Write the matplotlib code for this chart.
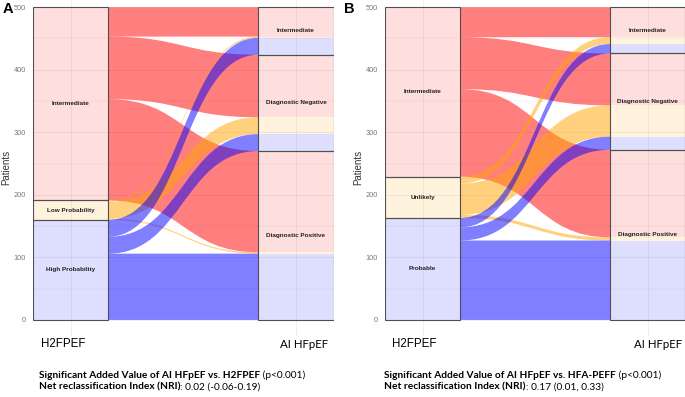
import matplotlib
matplotlib.use('Agg')
import matplotlib.pyplot as plt
from matplotlib.path import Path
from matplotlib.patches import PathPatch, Rectangle

# ---------------- data ----------------
# left-axis (H2FPEF / HFA-PEFF) categories, top to bottom
a_left = ["Intermediate", "Low Probability", "High Probability"]
b_left = ["Intermediate", "Unlikely", "Probable"]
# right-axis (AI HFpEF) categories, top to bottom
right_cats = ["Intermediate", "Diagnostic Negative", "Diagnostic Positive"]

# patients flowing from each left category to [Intermediate, Diag Neg, Diag Pos]
a_from_intermediate = [47, 100, 162]
a_from_low = [2, 27, 2]
a_from_high = [27, 27, 106]

b_from_intermediate = [48, 83, 140]
b_from_unlikely = [11, 50, 5]
b_from_probable = [15, 21, 127]

yticks = [0, 100, 200, 300, 400, 500]
x_labels = ["H2FPEF", "AI HFpEF"]
a_text = [("Significant Added Value of AI HFpEF vs. H2FPEF", " (p<0.001)"),
          ("Net reclassification Index (NRI)", ": 0.02 (-0.06-0.19)")]
b_text = [("Significant Added Value of AI HFpEF vs. HFA-PEFF", " (p<0.001)"),
          ("Net reclassification Index (NRI)", ": 0.17 (0.01, 0.33)")]

flow_colors = ["red", "orange", "blue"]
W, H = 685, 397
fig = plt.figure(figsize=(W / 100, H / 100), dpi=100)

GRID = "#ebebeb"
EDGE = "#4f4f4f"
SW = 1 / 3  # stratum width


def flow_patch(x0, x1, y0t, y0b, y1t, y1b, k=0.5):
    dx = x1 - x0
    verts = [(x0, y0t), (x0 + k * dx, y0t), (x1 - k * dx, y1t), (x1, y1t),
             (x1, y1b), (x1 - k * dx, y1b), (x0 + k * dx, y0b), (x0, y0b),
             (x0, y0t)]
    codes = [Path.MOVETO, Path.CURVE4, Path.CURVE4, Path.CURVE4,
             Path.LINETO, Path.CURVE4, Path.CURVE4, Path.CURVE4, Path.CLOSEPOLY]
    return Path(verts, codes)


def draw_panel(ax, left_names, flows):
    n = len(flows)
    left_tot = [sum(f) for f in flows]
    right_tot = [sum(flows[i][j] for i in range(n)) for j in range(n)]
    total = sum(left_tot)
    ltop = []
    y = total
    for t in left_tot:
        ltop.append(y)
        y -= t
    rtop = []
    y = total
    for t in right_tot:
        rtop.append(y)
        y -= t

    ax.set_xlim(1 - SW / 2, 2 + SW / 2)
    ax.set_ylim(-25, 511.5)
    for v in range(0, 501, 50):
        ax.axhline(v, color=GRID, lw=0.6 if v % 100 == 0 else 0.35, zorder=0)
    for xv in (1, 2):
        ax.axvline(xv, color=GRID, lw=0.6, zorder=0)

    x0 = 1 + SW / 2
    x1 = 2 - SW / 2
    lpos = {}
    for i in range(n):
        y = ltop[i]
        for j in range(n):
            lpos[(i, j)] = (y, y - flows[i][j])
            y -= flows[i][j]
    rpos = {}
    for j in range(n):
        y = rtop[j]
        for i in range(n):
            rpos[(i, j)] = (y, y - flows[i][j])
            y -= flows[i][j]

    for i in range(n):
        for j in range(n):
            if flows[i][j] <= 0:
                continue
            (a, b), (c, d) = lpos[(i, j)], rpos[(i, j)]
            p = flow_patch(x0, x1, a, b, c, d)
            ax.add_patch(PathPatch(p, facecolor=flow_colors[i], alpha=0.5,
                                   edgecolor='none', zorder=2 + i))
    for i in range(n):
        ax.add_patch(Rectangle((1 - SW / 2, ltop[i] - left_tot[i]), SW, left_tot[i],
                               facecolor=flow_colors[i], alpha=0.13,
                               edgecolor='none', zorder=6))
        ax.add_patch(Rectangle((1 - SW / 2, ltop[i] - left_tot[i]), SW, left_tot[i],
                               facecolor='none', edgecolor=EDGE, lw=0.8, zorder=7))
        ax.text(1, ltop[i] - left_tot[i] / 2, left_names[i], ha='center', va='center',
                fontsize=4.6, fontweight='bold', family='Liberation Sans',
                color='#222222', zorder=8)
    for j in range(n):
        for i in range(n):
            a, b = rpos[(i, j)]
            if a - b <= 0:
                continue
            ax.add_patch(Rectangle((2 - SW / 2, b), SW, a - b,
                                   facecolor=flow_colors[i], alpha=0.13,
                                   edgecolor='none', zorder=6))
        ax.add_patch(Rectangle((2 - SW / 2, rtop[j] - right_tot[j]), SW, right_tot[j],
                               facecolor='none', edgecolor=EDGE, lw=0.8, zorder=7))
        ax.text(2, rtop[j] - right_tot[j] / 2, right_cats[j], ha='center', va='center',
                fontsize=4.6, fontweight='bold', family='Liberation Sans',
                color='#222222', zorder=8)

    ax.set_yticks(yticks)
    ax.set_yticklabels([str(v) for v in yticks], fontsize=5.3,
                       color='#7a7a7a', family='Liberation Sans')
    ax.tick_params(axis='y', length=0, pad=5)
    ax.set_xticks([])
    for s in ax.spines.values():
        s.set_visible(False)
    ax.set_ylabel("Patients", fontsize=7, family='Liberation Sans',
                  color='#333333', labelpad=1.5)
    ax.patch.set_alpha(0)


def px_axes(left, right, top, bottom):
    return fig.add_axes([left / W, 1 - bottom / H, (right - left) / W, (bottom - top) / H])


axA = px_axes(33, 333.5, 0, 335.6)
draw_panel(axA, a_left, [a_from_intermediate, a_from_low, a_from_high])
axB = px_axes(385, 685, 0, 335.6)
draw_panel(axB, b_left, [b_from_intermediate, b_from_unlikely, b_from_probable])

fig.text(3 / W, 1 - 2 / H, "A", fontsize=10.5, fontweight='bold', va='top',
         family='Liberation Sans')
fig.text(344 / W, 1 - 2 / H, "B", fontsize=10.5, fontweight='bold', va='top',
         family='Liberation Sans')

for lx, rx in ((41.5, 328.5), (392, 682)):
    fig.text(lx / W, 1 - 344 / H, x_labels[0], ha='left', va='center',
             fontsize=8.3, family='Liberation Sans')
    fig.text(rx / W, 1 - 344 / H, x_labels[1], ha='right', va='center',
             fontsize=8.3, family='Lato')

fig.canvas.draw()
renderer = fig.canvas.get_renderer()


def mixed_line(x_px, y_px, bold, regular):
    t = fig.text(x_px / W, 1 - y_px / H, bold, ha='left', va='center',
                 fontsize=7.3, fontweight='bold', family='Lato')
    bb = t.get_window_extent(renderer=renderer)
    fig.text(bb.x1 / W, 1 - y_px / H, regular, ha='left', va='center',
             fontsize=7.3, family='Lato')


for k, (bp, rp) in enumerate(a_text):
    mixed_line(39, 375 + 12 * k, bp, rp)
for k, (bp, rp) in enumerate(b_text):
    mixed_line(384, 375 + 12 * k, bp, rp)

fig.savefig("out.png", dpi=100)
